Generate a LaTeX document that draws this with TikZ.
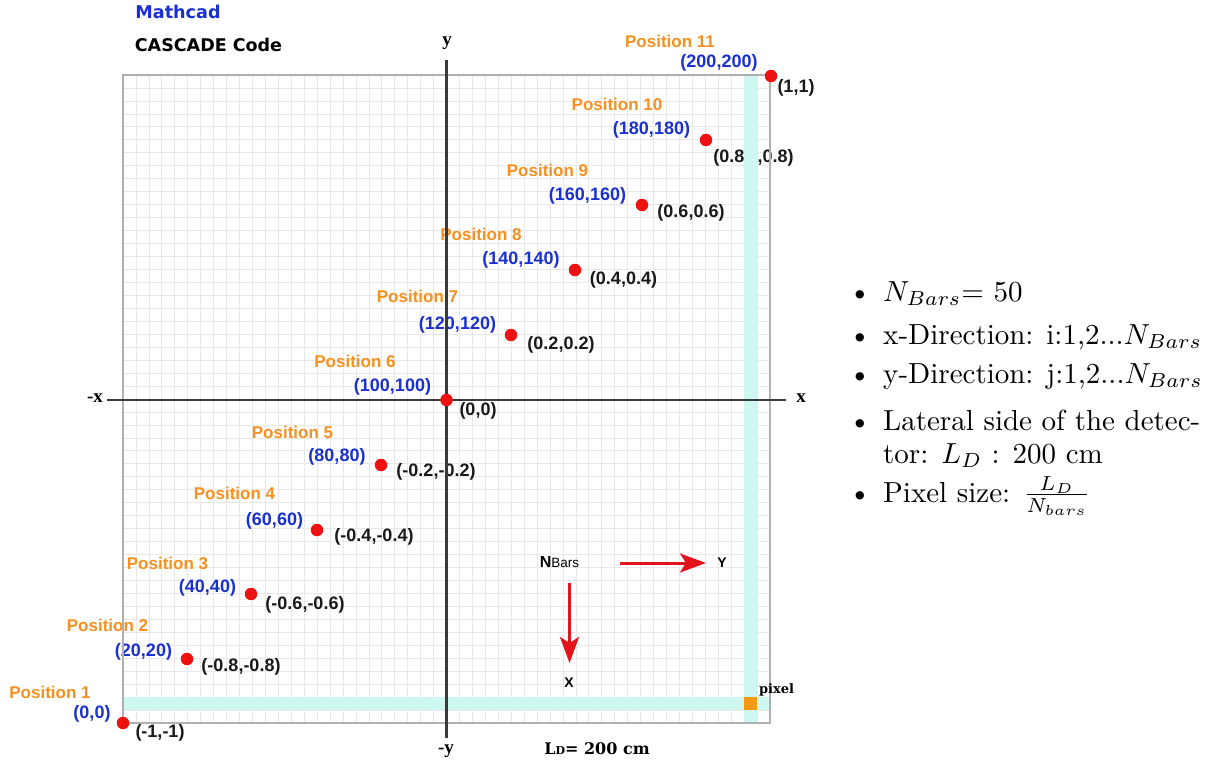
\documentclass[tikz,border=0pt]{standalone}
\usepackage{fontspec}
\newfontfamily\lsans{Liberation Sans}
\newfontfamily\lserif{Liberation Serif}
\newfontfamily\dserif{DejaVu Serif}
\newfontfamily\dsans{DejaVu Sans}
\usetikzlibrary{arrows.meta}
\definecolor{posorange}{HTML}{F7901E}
\definecolor{coordblue}{HTML}{1A30D0}
\definecolor{gridgray}{HTML}{E8E8E8}
\definecolor{bordergray}{HTML}{B0B0B0}
\definecolor{axisgray}{HTML}{3A3A3A}
\definecolor{cyanbar}{HTML}{CDF7F1}
\definecolor{pixorange}{HTML}{F39A12}
\definecolor{dotred}{HTML}{EE1111}
\definecolor{arrred}{HTML}{E3131B}
\newcommand{\bigtxt}[1]{\scalebox{2.9}{#1}}
\begin{document}
\begin{tikzpicture}[x=1pt,y=-1pt,
  poslabel/.style={font=\lsans\bfseries\fontsize{17}{17}\selectfont, text=posorange, inner sep=0pt},
  bluelabel/.style={font=\lsans\bfseries\fontsize{18}{18}\selectfont, text=coordblue, inner sep=0pt},
  blacklabel/.style={font=\lsans\bfseries\fontsize{18}{18}\selectfont, text=black!90, inner sep=0pt},
  axislabel/.style={font=\lserif\bfseries\fontsize{19}{19}\selectfont, inner sep=0pt},
  reddot/.style={circle, fill=dotred, minimum size=12.5pt, inner sep=0pt},
  redarrow/.style={draw=arrred, line width=3pt, -{Stealth[length=26pt,width=19pt,inset=6pt]}},
  bul/.style={font=\normalsize, inner sep=0pt},
  dirlabel/.style={font=\lsans\bfseries\fontsize{14}{14}\selectfont, inner sep=0pt},
]
\useasboundingbox (0,0) rectangle (1215,765);
% grid
\foreach \i in {0,...,50}{
  \draw[gridgray, line width=0.7pt] ({123+\i*12.94},75) -- ({123+\i*12.94},723);
  \draw[gridgray, line width=0.7pt] (123,{75+\i*12.96}) -- (770,{75+\i*12.96});
}
% cyan bars and pixel
\fill[cyanbar] (744.1,75) rectangle (757.1,723);
\fill[cyanbar] (123,697.1) rectangle (770,710.1);
\fill[pixorange] (744.1,697.1) rectangle (757.1,710.1);

% position labels
\node[poslabel] (pos1) at (50,692) {Position 1};
\node[poslabel] (pos2) at (107.5,625) {Position 2};
\node[poslabel] (pos3) at (167.5,563) {Position 3};
\node[poslabel] (pos4) at (234.5,493) {Position 4};
\node[poslabel] (pos5) at (292.5,432) {Position 5};
\node[poslabel] (pos6) at (355,361) {Position 6};
\node[poslabel] (pos7) at (417.5,296) {Position 7};
\node[poslabel] (pos8) at (481,234) {Position 8};
\node[poslabel] (pos9) at (547.5,170) {Position 9};
\node[poslabel] (pos10) at (617,104) {Position 10};
\node[poslabel] (pos11) at (670,41) {Position 11};
% blue coordinates
\node[bluelabel] (c1) at (92,714) {(0,0)};
\node[bluelabel] (c2) at (143.5,652) {(20,20)};
\node[bluelabel] (c3) at (207.5,588) {(40,40)};
\node[bluelabel] (c4) at (274.5,521) {(60,60)};
\node[bluelabel] (c5) at (337,457) {(80,80)};
\node[bluelabel] (c6) at (392.5,387) {(100,100)};
\node[bluelabel] (c7) at (457.5,325) {(120,120)};
\node[bluelabel] (c8) at (521,260) {(140,140)};
\node[bluelabel] (c9) at (587.5,196) {(160,160)};
\node[bluelabel] (c10) at (651.5,130) {(180,180)};
\node[bluelabel] (c11) at (719,63) {(200,200)};
% black coordinates
\node[blacklabel] (n1) at (160,733) {(-1,-1)};
\node[blacklabel] (n2) at (241,667) {(-0.8,-0.8)};
\node[blacklabel] (n3) at (305,605) {(-0.6,-0.6)};
\node[blacklabel] (n4) at (374,537) {(-0.4,-0.4)};
\node[blacklabel] (n5) at (436,472) {(-0.2,-0.2)};
\node[blacklabel] (n6) at (478,411) {(0,0)};
\node[blacklabel] (n7) at (561,345) {(0.2,0.2)};
\node[blacklabel] (n8) at (623.5,280) {(0.4,0.4)};
\node[blacklabel] (n9) at (691,213) {(0.6,0.6)};
\node[blacklabel] (n10) at (753.5,158) {(0.8\hspace{13pt},0.8)};
\node[blacklabel] (n11) at (796,88) {(1,1)};

% border
\draw[bordergray, line width=2pt] (123,75) rectangle (770,723);
% axes
\coordinate (ytop) at (446.5,60);
\coordinate (ybot) at (446.5,738);
\coordinate (xleft) at (107,400);
\coordinate (xright) at (786,400);
\draw[axisgray, line width=2.2pt] (ytop) -- (ybot);
\draw[axisgray, line width=2.2pt] (xleft) -- (xright);
\node[axislabel] (ylab) at (447,43) {y};
\node[axislabel] (mylab) at (446,751) {-y};
\node[axislabel] (mxlab) at (95,398) {-x};
\node[axislabel] (xlab) at (801,398) {x};

% dots
\node[reddot] (p1) at (123,723) {};
\node[reddot] (p2) at (187,659) {};
\node[reddot] (p3) at (251,594) {};
\node[reddot] (p4) at (317,530) {};
\node[reddot] (p5) at (381,465) {};
\node[reddot] (p6) at (446.5,400) {};
\node[reddot] (p7) at (511,335) {};
\node[reddot] (p8) at (575,270) {};
\node[reddot] (p9) at (642,205) {};
\node[reddot] (p10) at (706,140) {};
\node[reddot] (p11) at (771,76) {};

% titles
\node[inner sep=0pt, text=coordblue, font=\dsans\bfseries\fontsize{17.6}{17.6}\selectfont] (mathcad) at (178,12) {Mathcad};
\node[inner sep=0pt, font=\dsans\bfseries\fontsize{17.5}{17.5}\selectfont] (cascade) at (208.5,45) {CASCADE Code};

% NBars and arrows
\node[inner sep=0pt, font=\lsans\bfseries] (nbars) at (559.5,562) {\fontsize{16}{16}\selectfont N\fontsize{13.5}{14}\selectfont\mdseries Bars};
\node[dirlabel] (ylet) at (722,563) {Y};
\node[dirlabel] (xlet) at (569,683) {X};
\coordinate (a1s) at (620,563);
\coordinate (a1e) at (706,563);
\coordinate (a2s) at (569.5,583);
\coordinate (a2e) at (569.5,663);
\draw[redarrow] (a1s) -- (a1e);
\draw[redarrow] (a2s) -- (a2e);

% pixel and LD
\node[inner sep=0pt, font=\dserif\bfseries\fontsize{13}{13}\selectfont] (pixlab) at (776.5,690) {pixel};
\node[inner sep=0pt, font=\dserif\bfseries] (ldlab) at (597,749) {\fontsize{16}{16}\selectfont L\fontsize{11}{11}\selectfont D\fontsize{16}{16}\selectfont= 200 cm};

% bullet list
\node[bul, anchor=base] (bu1) at (860,301) {\bigtxt{\textbullet}};
\node[bul, anchor=base] (bu2) at (860,344) {\bigtxt{\textbullet}};
\node[bul, anchor=base] (bu3) at (860,383) {\bigtxt{\textbullet}};
\node[bul, anchor=base] (bu4) at (860,430) {\bigtxt{\textbullet}};
\node[bul, anchor=base] (bu5) at (860,502) {\bigtxt{\textbullet}};
\node[bul, anchor=base west] (t1) at (883,301) {\bigtxt{$N_{Bars}$= 50}};
\node[bul, anchor=base west] (t2) at (883,344) {\bigtxt{x-Direction: i:1,2...$N_{Bars}$}};
\node[bul, anchor=base west] (t3) at (883,383) {\bigtxt{y-Direction: j:1,2...$N_{Bars}$}};
\node[bul, anchor=base west] (t4) at (883,430) {\bigtxt{Lateral side of the detec-}};
\node[bul, anchor=base west] (t4b) at (883,463) {\bigtxt{tor: $L_D$ : 200 cm}};
\node[bul, anchor=base west] (t5) at (883,502) {\bigtxt{Pixel size: $\frac{L_D}{N_{bars}}$}};
\end{tikzpicture}
\end{document}
